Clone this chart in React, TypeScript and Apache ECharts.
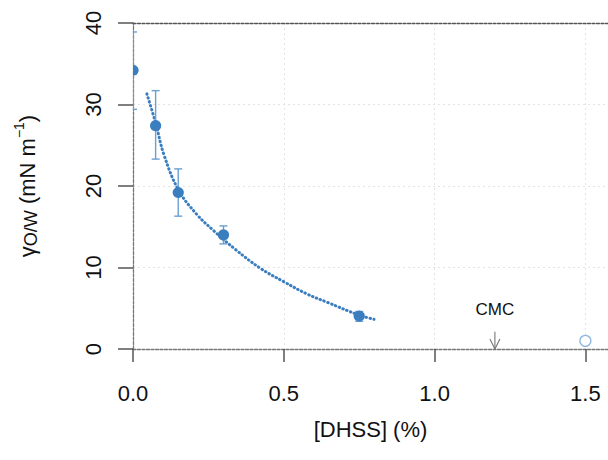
import React, { useEffect, useRef } from "react";
import * as echarts from "echarts";

// measured points (concentration %, interfacial tension mN/m)
const xPoints = [0, 0.075, 0.15, 0.3, 0.75];
const yPoints = [34.2, 27.4, 19.2, 14.0, 4.05];
const yErrLow = [29.4, 23.3, 16.3, 12.9, 3.4];
const yErrHigh = [38.9, 31.7, 22.1, 15.1, 4.6];
// open point above CMC
const openX = [1.5];
const openY = [1.0];
// fitted curve
const fitX = [0.046, 0.076, 0.102, 0.151, 0.212, 0.268, 0.34, 0.4225, 0.5, 0.577, 0.644, 0.749, 0.799];
const fitY = [31.3, 27.6, 23.9, 19.5, 16.5, 14.5, 12.2, 9.9, 8.26, 6.75, 5.73, 4.17, 3.64];
// CMC annotation
const cmcX = 1.2;
const cmcArrowTop = 2.12;
const cmcLabelY = 4.9;
const cmcLabel = "CMC";
// ticks
const xTicks = [0, 0.5, 1.0, 1.5];
const yTicks = [0, 10, 20, 30, 40];

const FONT = "'Liberation Sans', Arial, Helvetica, sans-serif";
const pointColor = "#3a7ebf";
const errColor = "#6b9fd2";

export default function App() {
  const ref = useRef<HTMLDivElement>(null);
  useEffect(() => {
    if (!ref.current) return;
    document.body.style.margin = "0";
    const chart = echarts.init(ref.current, null, { renderer: "svg" });
    const pointData = xPoints.map((x, i) => [x, yPoints[i], yErrLow[i], yErrHigh[i]]);
    const fitData = fitX.map((x, i) => [x, fitY[i]]);
    const openData = openX.map((x, i) => [x, openY[i]]);
    chart.setOption({
      animation: false,
      grid: { left: 133, right: 0, top: 23, bottom: 111, containLabel: false },
      xAxis: [
        {
          type: "value",
          min: 0,
          max: 1.575,
          interval: 0.5,
          name: "[DHSS] (%)",
          nameLocation: "middle",
          nameGap: 69,
          nameMoveOverlap: false,
          nameTextStyle: { fontSize: 22, fontFamily: FONT, color: "#111" },
          axisLine: { show: true, onZero: false, lineStyle: { color: "#777", width: 1.3, type: [3, 1.5] } },
          axisTick: { show: true, length: 13, lineStyle: { color: "#555", width: 1.5 }, customValues: xTicks },
          axisLabel: {
            fontSize: 22,
            fontFamily: FONT,
            color: "#111",
            margin: 33,
            customValues: xTicks,
            formatter: (v: number) => v.toFixed(1),
          },
          splitLine: { show: true, lineStyle: { color: "#e4e4e4", type: [2, 3], width: 1 } },
        },
        {
          type: "value",
          position: "top",
          min: 0,
          max: 1.575,
          axisLine: { show: true, onZero: false, lineStyle: { color: "#555", width: 1.3, type: [3, 1.5] } },
          axisTick: { show: false },
          axisLabel: { show: false },
          splitLine: { show: false },
        },
      ],
      yAxis: {
        type: "value",
        min: 0,
        max: 40,
        interval: 10,
        name: "{g|γ}{s|O/W}{n| (mN m}{sup|−1}{n|)}",
        nameLocation: "middle",
        nameRotate: 90,
        nameGap: 91,
        nameMoveOverlap: false,
        nameTextStyle: {
          fontSize: 22,
          fontFamily: FONT,
          color: "#111",
          rich: {
            g: { fontSize: 22, fontFamily: FONT, color: "#111", lineHeight: 30, verticalAlign: "middle" },
            s: { fontSize: 18, fontFamily: FONT, color: "#111", lineHeight: 30, verticalAlign: "bottom", padding: [0, 0, 2, 0] },
            n: { fontSize: 22, fontFamily: FONT, color: "#111", lineHeight: 30, verticalAlign: "middle" },
            sup: { fontSize: 14, fontFamily: FONT, color: "#111", lineHeight: 30, verticalAlign: "top" },
          },
        },
        axisLine: { show: true, onZero: false, lineStyle: { color: "#777", width: 1.3, type: [3, 1.5] } },
        axisTick: { show: true, length: 15, lineStyle: { color: "#555", width: 1.5 }, customValues: yTicks },
        axisLabel: {
          fontSize: 22,
          fontFamily: FONT,
          color: "#111",
          rotate: 90,
          margin: 29,
          customValues: yTicks,
        },
        splitLine: { show: true, lineStyle: { color: "#e4e4e4", type: [2, 3], width: 1 } },
      },
      series: [
        {
          type: "line",
          data: fitData,
          smooth: 0.4,
          showSymbol: false,
          symbol: "none",
          clip: true,
          lineStyle: { color: pointColor, width: 3, type: [0.5, 3.6], cap: "round" },
          z: 2,
        },
        {
          type: "custom",
          data: pointData,
          clip: true,
          z: 3,
          renderItem: (params: any, api: any) => {
            const x = api.value(0);
            const y = api.value(1);
            const lo = api.value(2);
            const hi = api.value(3);
            const c = api.coord([x, y]);
            const l = api.coord([x, lo]);
            const h = api.coord([x, hi]);
            const cap = 4;
            const st = { stroke: errColor, lineWidth: 1.4 };
            return {
              type: "group",
              children: [
                { type: "line", shape: { x1: c[0], y1: l[1], x2: c[0], y2: h[1] }, style: st },
                { type: "line", shape: { x1: c[0] - cap, y1: h[1], x2: c[0] + cap, y2: h[1] }, style: st },
                { type: "line", shape: { x1: c[0] - cap, y1: l[1], x2: c[0] + cap, y2: l[1] }, style: st },
                { type: "circle", shape: { cx: c[0], cy: c[1], r: 5.6 }, style: { fill: pointColor } },
              ],
            };
          },
        },
        {
          type: "scatter",
          data: openData,
          symbol: "circle",
          symbolSize: 11,
          itemStyle: { color: "#ffffff", borderColor: "#6fa3d8", borderWidth: 1.3 },
          z: 3,
        },
        {
          type: "custom",
          data: [[cmcX, cmcArrowTop, cmcLabelY]],
          clip: false,
          z: 4,
          renderItem: (params: any, api: any) => {
            const x = api.value(0);
            const top = api.coord([x, api.value(1)]);
            const bot = api.coord([x, 0]);
            const lab = api.coord([x, api.value(2)]);
            const st = { stroke: "#777", lineWidth: 1.1, fill: "none" };
            return {
              type: "group",
              children: [
                { type: "line", shape: { x1: top[0], y1: top[1], x2: bot[0], y2: bot[1] }, style: st },
                {
                  type: "polyline",
                  shape: { points: [[bot[0] - 5, bot[1] - 10], [bot[0], bot[1]], [bot[0] + 5, bot[1] - 10]] },
                  style: st,
                },
                {
                  type: "text",
                  x: lab[0],
                  y: lab[1],
                  style: { text: cmcLabel, fontSize: 17, fontFamily: FONT, fill: "#111", align: "center", verticalAlign: "middle" },
                },
              ],
            };
          },
        },
      ],
    });
    return () => chart.dispose();
  }, []);
  return <div ref={ref} style={{ width: 608, height: 460 }} />;
}
